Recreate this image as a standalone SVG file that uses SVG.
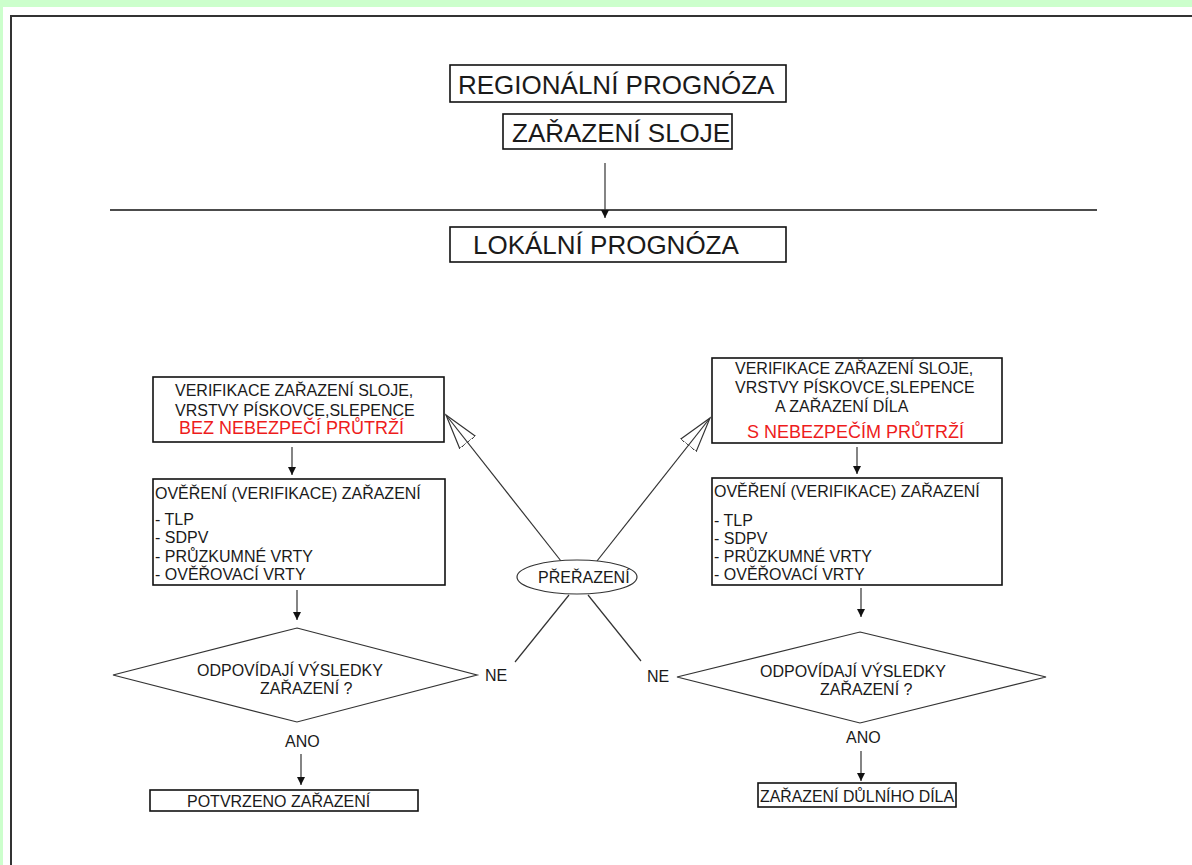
<svg xmlns="http://www.w3.org/2000/svg" width="1192" height="865" viewBox="0 0 1192 865">
<style>
text{font-family:"Liberation Sans",Arial,sans-serif;fill:#1a1a1a}
.big{font-size:26px}
.m{font-size:16px}
.s{font-size:16px}
.red{font-size:18px;fill:#ee1c1c}
.box{fill:#fff;stroke:#111;stroke-width:1.6}
.ln{fill:none;stroke:#333;stroke-width:1.2}
</style>
<defs>
<marker id="arr" markerWidth="8" markerHeight="9" refX="8" refY="4" orient="auto" markerUnits="userSpaceOnUse"><path d="M0,0 L8,4 L0,8 Z" fill="#111"/></marker>
<marker id="open" markerWidth="37" markerHeight="24" refX="35" refY="11" orient="auto" markerUnits="userSpaceOnUse"><path d="M0,1 L35,11 L0,21 Z" fill="none" stroke="#333" stroke-width="1.2"/></marker>
</defs>
<rect x="0" y="0" width="1192" height="865" fill="#fff"/>
<rect x="0" y="0" width="1192" height="7" fill="#ccffcc"/>
<rect x="0" y="0" width="3" height="865" fill="#ccffcc"/>
<rect x="11" y="16" width="1200" height="870" fill="#fff" stroke="#333" stroke-width="2"/>
<line x1="110" y1="210" x2="1097" y2="210" stroke="#111" stroke-width="1.5"/>

<g id="connectors">
<line class="ln" x1="605" y1="163" x2="605" y2="218" marker-end="url(#arr)"/>
<line class="ln" x1="292" y1="447" x2="292" y2="475" marker-end="url(#arr)"/>
<line class="ln" x1="297" y1="590" x2="297" y2="620" marker-end="url(#arr)"/>
<line class="ln" x1="301" y1="754" x2="301" y2="785" marker-end="url(#arr)"/>
<line class="ln" x1="857" y1="447" x2="857" y2="474" marker-end="url(#arr)"/>
<line class="ln" x1="861" y1="588" x2="861" y2="617" marker-end="url(#arr)"/>
<line class="ln" x1="861" y1="751" x2="861" y2="781" marker-end="url(#arr)"/>
<line class="ln" x1="561" y1="561" x2="446" y2="415" marker-end="url(#open)"/>
<line class="ln" x1="597" y1="561" x2="710" y2="418" marker-end="url(#open)"/>
<line class="ln" x1="569" y1="595" x2="515" y2="662"/>
<line class="ln" x1="588" y1="595" x2="641" y2="661"/>
</g>

<g id="regionalni">
<rect class="box" x="450" y="65" width="336" height="37"/>
<text class="big" x="458" y="94">REGIONÁLNÍ PROGNÓZA</text>
</g>
<g id="zarazeni-sloje">
<rect class="box" x="503" y="114" width="229" height="35"/>
<text class="big" x="512" y="142">ZAŘAZENÍ SLOJE</text>
</g>
<g id="lokalni">
<rect class="box" x="450" y="227" width="336" height="35"/>
<text class="big" x="473" y="254">LOKÁLNÍ PROGNÓZA</text>
</g>

<g id="left-verif">
<rect class="box" x="153" y="377" width="291" height="65"/>
<text class="m" x="175" y="396">VERIFIKACE ZAŘAZENÍ SLOJE,</text>
<text class="m" x="175" y="416">VRSTVY PÍSKOVCE,SLEPENCE</text>
<text class="red" x="179" y="434">BEZ NEBEZPEČÍ PRŮTRŽÍ</text>
</g>
<g id="left-overeni">
<rect class="box" x="153" y="479" width="292" height="106"/>
<text class="m" x="155" y="499">OVĚŘENÍ (VERIFIKACE) ZAŘAZENÍ</text>
<text class="s" x="155" y="525">- TLP</text>
<text class="s" x="155" y="543">- SDPV</text>
<text class="s" x="155" y="562">- PRŮZKUMNÉ VRTY</text>
<text class="s" x="155" y="580">- OVĚŘOVACÍ VRTY</text>
</g>
<g id="left-diamond">
<polygon points="297,628 477,675 297,722 113,675" fill="#fff" stroke="#333" stroke-width="1.2"/>
<text class="m" x="197" y="676">ODPOVÍDAJÍ VÝSLEDKY</text>
<text class="m" x="260" y="694">ZAŘAZENÍ ?</text>
</g>
<text id="left-ne" class="m" x="485" y="681">NE</text>
<text id="left-ano" class="m" x="285" y="747">ANO</text>
<g id="potvrzeno">
<rect class="box" x="150" y="790" width="268" height="21"/>
<text class="m" x="187" y="807">POTVRZENO ZAŘAZENÍ</text>
</g>

<g id="preazeni">
<ellipse cx="577" cy="577" rx="60" ry="17" fill="#fff" stroke="#333" stroke-width="1.2"/>
<text class="m" x="538" y="583">PŘEŘAZENÍ</text>
</g>

<g id="right-verif">
<rect class="box" x="712" y="358" width="290" height="85"/>
<text class="m" x="735" y="374">VERIFIKACE ZAŘAZENÍ SLOJE,</text>
<text class="m" x="735" y="393">VRSTVY PÍSKOVCE,SLEPENCE</text>
<text class="m" x="775" y="412">A ZAŘAZENÍ DÍLA</text>
<text class="red" x="747" y="438">S NEBEZPEČÍM PRŮTRŽÍ</text>
</g>
<g id="right-overeni">
<rect class="box" x="712" y="478" width="290" height="107"/>
<text class="m" x="714" y="497">OVĚŘENÍ (VERIFIKACE) ZAŘAZENÍ</text>
<text class="s" x="714" y="526">- TLP</text>
<text class="s" x="714" y="544">- SDPV</text>
<text class="s" x="714" y="562">- PRŮZKUMNÉ VRTY</text>
<text class="s" x="714" y="580">- OVĚŘOVACÍ VRTY</text>
</g>
<g id="right-diamond">
<polygon points="860,632 1046,677 860,723 677,677" fill="#fff" stroke="#333" stroke-width="1.2"/>
<text class="m" x="760" y="677">ODPOVÍDAJÍ VÝSLEDKY</text>
<text class="m" x="820" y="695">ZAŘAZENÍ ?</text>
</g>
<text id="right-ne" class="m" x="647" y="682">NE</text>
<text id="right-ano" class="m" x="846" y="743">ANO</text>
<g id="dulniho">
<rect class="box" x="758" y="783" width="198" height="24"/>
<text class="m" x="760" y="802" textLength="194" lengthAdjust="spacingAndGlyphs">ZAŘAZENÍ DŮLNÍHO DÍLA</text>
</g>
</svg>
